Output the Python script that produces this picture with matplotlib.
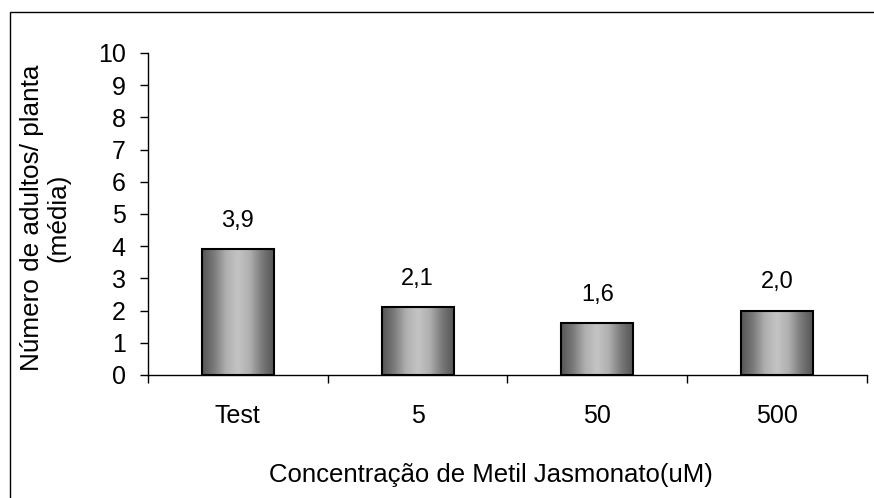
import numpy as np
import matplotlib.pyplot as plt
from matplotlib.patches import Rectangle
from matplotlib.colors import LinearSegmentedColormap

plt.rcParams['font.family'] = ['Liberation Sans', 'DejaVu Sans']

# Dados
categorias = ['Test', '5', '50', '500']
medias = [3.9, 2.1, 1.6, 2.0]
rotulos = ['3,9', '2,1', '1,6', '2,0']

fig = plt.figure(figsize=(8.74, 4.98), dpi=100)
ax = fig.add_axes([0.1693, 0.247, 0.8227, 0.6466])

# moldura externa
fig.patches.append(Rectangle((10 / 874, -0.1), 1.2, 0.1 + 1 - 12 / 498,
                             transform=fig.transFigure, fill=False,
                             edgecolor='black', linewidth=1.0))

# degradê horizontal das barras (escuro nas bordas, claro no centro)
cmap = LinearSegmentedColormap.from_list(
    'cinza', ['#555555', '#7a7a7a', '#afafaf', '#c4c4c4', '#afafaf', '#7a7a7a', '#555555'])
grad = np.linspace(0, 1, 256).reshape(1, -1)

x = np.arange(len(categorias))
largura = 0.4
for xi, v, txt in zip(x, medias, rotulos):
    ax.imshow(grad, cmap=cmap, aspect='auto', interpolation='bicubic',
              extent=(xi - largura / 2, xi + largura / 2, 0, v), zorder=2)
    ax.add_patch(Rectangle((xi - largura / 2, 0), largura, v, fill=False,
                           edgecolor='black', linewidth=1.5, zorder=3))
    ax.text(xi, v + 0.88, txt, ha='center', va='center', fontsize=17)

ax.set_xlim(-0.5, len(categorias) - 0.5)
ax.set_ylim(0, 10)
ax.set_yticks(range(0, 11))
ax.set_xticks(x)
ax.set_xticklabels(categorias)
ax.set_xticks(np.arange(-0.5, len(categorias)), minor=True)
ax.tick_params(axis='x', which='major', length=0, pad=21, labelsize=18)
ax.tick_params(axis='x', which='minor', length=6, direction='out', width=1)
ax.tick_params(axis='y', length=6, direction='out', width=1, labelsize=18, pad=10)

for s in ['top', 'right']:
    ax.spines[s].set_visible(False)
for s in ['left', 'bottom']:
    ax.spines[s].set_linewidth(1)

fig.text(45 / 874, 1 - 218 / 498, 'Número de adultos/ planta\n(média)',
         rotation=90, ha='center', va='center', fontsize=18.8, linespacing=1.1,
         multialignment='center')
fig.text(491 / 874, 1 - 475 / 498, 'Concentração de Metil Jasmonato(uM)',
         ha='center', va='center', fontsize=18.5)

fig.savefig('out.png', dpi=100)
